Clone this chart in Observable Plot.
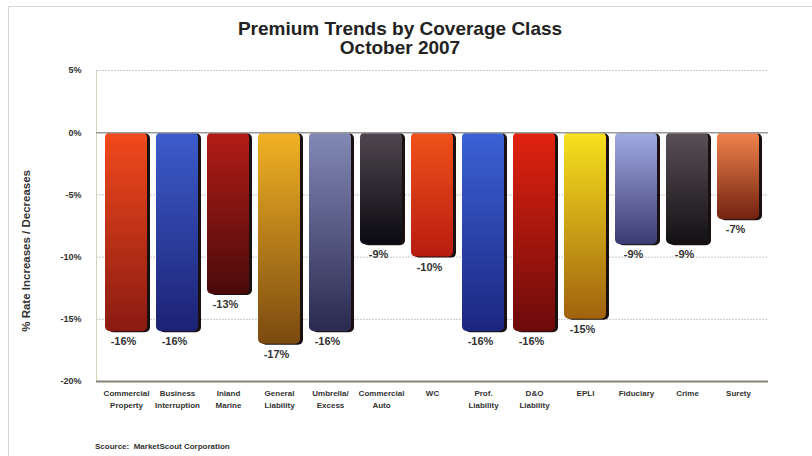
<!DOCTYPE html>
<html>
<head>
<meta charset="utf-8">
<script src="https://cdn.jsdelivr.net/npm/d3@7"></script>
<script src="https://cdn.jsdelivr.net/npm/@observablehq/plot@0.6"></script>
<style>
  html, body { margin: 0; padding: 0; background: #fff; width: 812px; height: 456px; overflow: hidden; }
  #frame { position: absolute; left: 8px; top: 6px; width: 804px; height: 450px; border-top: 1px solid #d8d8d8; border-left: 1px solid #d8d8d8; }
  #title { position: absolute; left: 0; top: 19px; width: 800px; text-align: center; font: bold 19px "Liberation Sans", Arial, sans-serif; line-height: 19px; color: #222; }
  #chart { position: absolute; left: 0; top: 58px; }
  #source { position: absolute; left: 95px; top: 442px; font: bold 8px "Liberation Sans", Arial, sans-serif; color: #333; }
</style>
</head>
<body>
<div id="frame"></div>
<div id="title">Premium Trends by Coverage Class<br>October 2007</div>
<div id="chart"></div>
<div id="source">Scource:&nbsp; MarketScout Corporation</div>
<script>
const categories = ["Commercial Property","Business Interruption","Inland Marine","General Liability","Umbrella/ Excess","Commercial Auto","WC","Prof. Liability","D&O Liability","EPLI","Fiduciary","Crime","Surety"];
const tickLabels = ["Commercial\nProperty","Business\nInterruption","Inland\nMarine","General\nLiability","Umbrella/\nExcess","Commercial\nAuto","WC","Prof.\nLiability","D&O\nLiability","EPLI","Fiduciary","Crime","Surety"];
const values = [-16,-16,-13,-17,-16,-9,-10,-16,-16,-15,-9,-9,-7];
const yTicks = [5,0,-5,-10,-15,-20];
const gradTop = ["#f24a1c","#3d5ccc","#b31c16","#f2b224","#8389b6","#4f474f","#f0521a","#3b62d6","#e2220f","#f8e21e","#a3abe3","#5a5058","#f2844e"];
const gradBottom = ["#8a1a12","#1c2274","#4a0b0b","#7a4a10","#2a2a50","#0b0a10","#b81c10","#1c2680","#6c0b0b","#a0620e","#3b3b72","#121012","#722210"];

const data = categories.map((c, i) => ({cat: c, tick: tickLabels[i], value: values[i], idx: i}));
const tickMap = new Map(categories.map((c, i) => [c, tickLabels[i]]));
const font = '"Liberation Sans", Arial, sans-serif';

const plot = Plot.plot({
  width: 812,
  height: 370,
  marginLeft: 96,
  marginRight: 44,
  marginTop: 12,
  marginBottom: 47,
  style: {fontFamily: font, background: "transparent"},
  x: {domain: categories, paddingInner: 0.17, paddingOuter: 0.1, label: null, tickSize: 0, tickPadding: 9, tickFormat: d => tickMap.get(d)},
  y: {domain: [-20, 5], ticks: yTicks, tickSize: 0, tickPadding: 15, tickFormat: d => d + "%", label: null},
  marks: [
    Plot.ruleY([5, -5, -10, -15], {stroke: "#c8c8c8", strokeWidth: 1, strokeDasharray: "2,1"}),
    Plot.frame({anchor: "left", stroke: "#d6d2b8", strokeWidth: 1}),
    Plot.barY(data, {x: "cat", y1: 0, y2: "value", fill: "#1a1010", dx: 3, dy: 1, rx: 5}),
    Plot.barY(data, {x: "cat", y1: 0, y2: "value", fill: "#888", rx: 5}),
    Plot.ruleY([0], {stroke: "#9a9a9a", strokeWidth: 1.5}),
    Plot.ruleY([-20], {stroke: "#8a8478", strokeWidth: 2}),
    Plot.text(data, {x: "cat", y: "value", text: d => d.value + "%", dy: 10, dx: -3, fontSize: 11, fontWeight: "bold", fill: "#333", lineAnchor: "middle"}),
    Plot.text(["% Rate Increases / Decreases"], {frameAnchor: "left", y: [-9.5], dx: -70, rotate: -90, textAnchor: "middle", fontSize: 11.5, fontWeight: "bold", fill: "#333"})
  ]
});

const svg = d3.select(plot);
const defs = svg.insert("defs", ":first-child");
categories.forEach((c, i) => {
  const g = defs.append("linearGradient").attr("id", "g" + i).attr("x1", 0).attr("y1", 0).attr("x2", 0).attr("y2", 1);
  g.append("stop").attr("offset", "0%").attr("stop-color", gradTop[i]);
  g.append("stop").attr("offset", "100%").attr("stop-color", gradBottom[i]);
});
const barGroups = svg.selectAll('g[aria-label="bar"]').nodes();
const mainBars = barGroups[barGroups.length - 1];
d3.select(mainBars).attr("fill", null).selectAll("rect").attr("fill", (d, i) => `url(#g${i})`);
svg.selectAll('g[aria-label="y-axis tick label"] text, g[aria-label="x-axis tick label"] text').style("font-weight", "bold");
svg.select('g[aria-label="y-axis tick label"]').attr("font-size", 9).attr("fill", "#333");
svg.select('g[aria-label="x-axis tick label"]').attr("font-size", 8).attr("fill", "#333");
svg.selectAll('g[aria-label="x-axis tick label"] text').each(function() {
  d3.select(this).selectAll("tspan").filter((d, i) => i > 0).attr("dy", "1.45em");
});

document.getElementById("chart").appendChild(plot);
</script>
</body>
</html>
